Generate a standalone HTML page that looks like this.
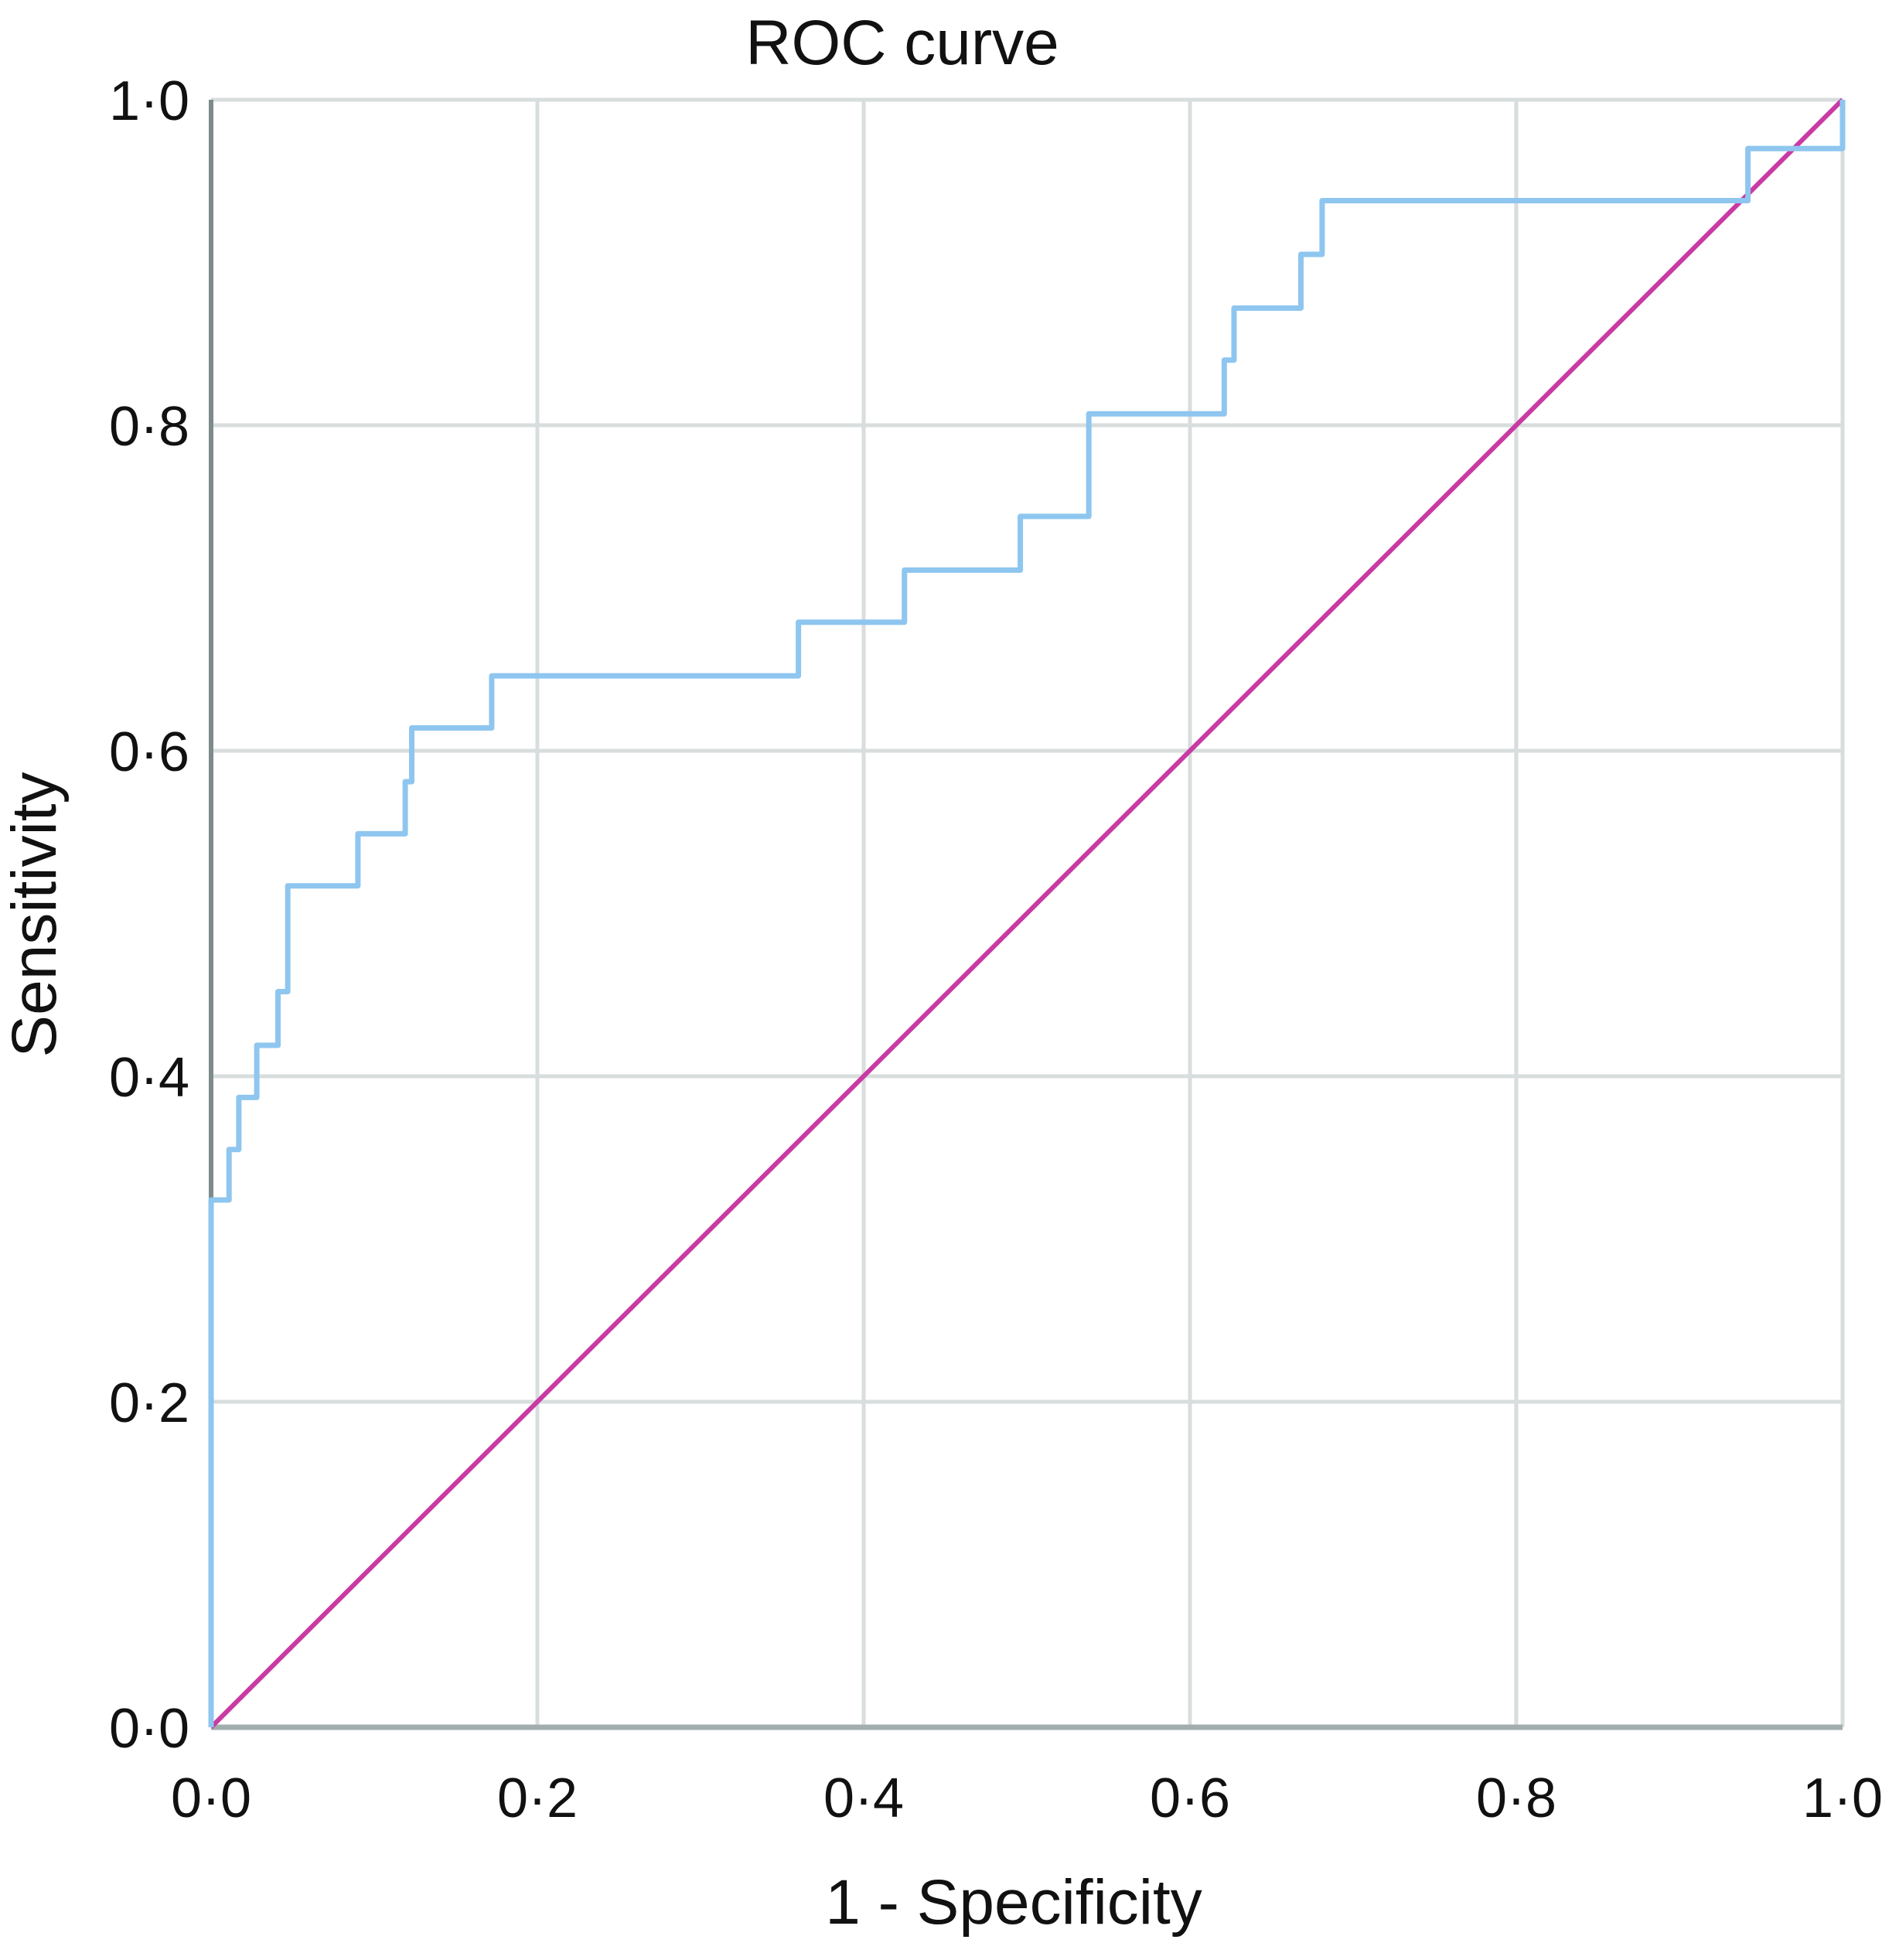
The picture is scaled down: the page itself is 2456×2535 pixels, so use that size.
<!DOCTYPE html>
<html><head><meta charset="utf-8"><style>
html,body{margin:0;padding:0;background:#fff;}
svg{display:block;}
text{font-family:"Liberation Sans",Arial,sans-serif;fill:#111;}
</style></head><body>
<svg id="chart" width="2456" height="2535" viewBox="0 0 2456 2535" xmlns="http://www.w3.org/2000/svg">
<text x="1167" y="83" font-size="82" text-anchor="middle">ROC curve</text>
<text x="1311" y="2488" font-size="82" text-anchor="middle">1 - Specificity</text>
<text x="0" y="0" font-size="82" text-anchor="middle" transform="translate(72,1183) rotate(-90)">Sensitivity</text>
<g id="grid"></g><g id="axes"></g><g id="ticks"></g><g id="series"></g>
</svg>
<script>
const tickValues = [0, 0.2, 0.4, 0.6, 0.8, 1.0];
const tickLabels = ["0·0", "0·2", "0·4", "0·6", "0·8", "1·0"];
const rocFpr = [0, 0, 0.011, 0.011, 0.017, 0.017, 0.028, 0.028, 0.041, 0.041, 0.047, 0.047, 0.090, 0.090, 0.119, 0.119, 0.123, 0.123, 0.172, 0.172, 0.360, 0.360, 0.425, 0.425, 0.496, 0.496, 0.538, 0.538, 0.621, 0.621, 0.627, 0.627, 0.668, 0.668, 0.681, 0.681, 0.942, 0.942, 1.0, 1.0];
const rocTpr = [0, 0.324, 0.324, 0.355, 0.355, 0.387, 0.387, 0.419, 0.419, 0.452, 0.452, 0.517, 0.517, 0.549, 0.549, 0.581, 0.581, 0.614, 0.614, 0.646, 0.646, 0.679, 0.679, 0.711, 0.711, 0.744, 0.744, 0.807, 0.807, 0.840, 0.840, 0.872, 0.872, 0.905, 0.905, 0.938, 0.938, 0.970, 0.970, 1.0];
const refFpr = [0, 1];
const refTpr = [0, 1];

const NS = "http://www.w3.org/2000/svg";
const X0 = 273, X1 = 2383, Y0 = 2234, Y1 = 129;
function xs(v){ return X0 + (X1 - X0) * v; }
function ys(v){ return Y0 - (Y0 - Y1) * v; }
function mk(tag, attrs, parent){
  const e = document.createElementNS(NS, tag);
  for (const k in attrs) e.setAttribute(k, attrs[k]);
  document.getElementById(parent).appendChild(e);
  return e;
}
tickValues.forEach((v, i) => {
  const gv = mk("line", {x1: xs(v), x2: xs(v), y1: Y1, y2: Y0, stroke: "#d8dddd", "stroke-width": 5}, "grid");
  
  
  const gh = mk("line", {x1: X0, x2: X1, y1: ys(v), y2: ys(v), stroke: "#d8dddd", "stroke-width": 5}, "grid");
  
  
  const tx = mk("text", {x: xs(v), y: 2350, "font-size": 72, "text-anchor": "middle"}, "ticks");
  tx.textContent = tickLabels[i];
  
  
  const ty = mk("text", {x: 245, y: ys(v) + 26, "font-size": 72, "text-anchor": "end"}, "ticks");
  ty.textContent = tickLabels[i];
  
  
});
const ax = mk("line", {x1: X0, x2: X0, y1: Y1, y2: Y0, stroke: "#7f8b8b", "stroke-width": 6}, "axes");


const bx = mk("line", {x1: X0, x2: X1, y1: Y0, y2: Y0, stroke: "#a2aeae", "stroke-width": 7}, "axes");



const ref = mk("polyline", {points: refFpr.map((v, i) => xs(v) + "," + ys(refTpr[i])).join(" "), fill: "none", stroke: "#c93aa3", "stroke-width": 6}, "series");


const roc = mk("polyline", {points: rocFpr.map((v, i) => xs(v) + "," + ys(rocTpr[i])).join(" "), fill: "none", stroke: "#8ec6ef", "stroke-width": 7, "stroke-linejoin": "round"}, "series");


</script>
</body></html>
